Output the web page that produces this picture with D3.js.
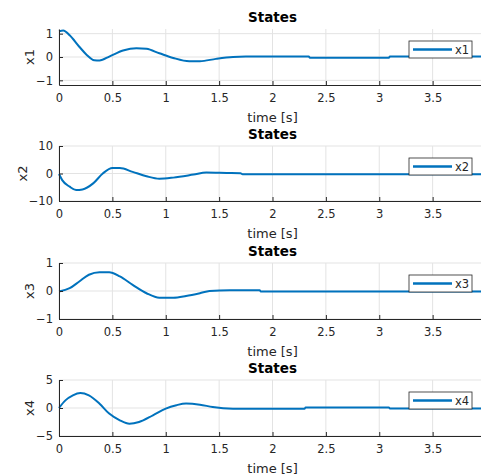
<!DOCTYPE html>
<html>
<head>
<meta charset="utf-8">
<script src="https://cdn.jsdelivr.net/npm/d3@7"></script>
<style>
  body { margin: 0; background: #fff; }
  svg { display: block; font-family: "DejaVu Sans", sans-serif; }
</style>
</head>
<body>
<div id="chart"></div>
<script>
/* four stacked state plots, MATLAB look */

const xTicks = [0, 0.5, 1, 1.5, 2, 2.5, 3, 3.5]; // 4 falls just off the picture

const x1T = [0, 0.04, 0.1, 0.19, 0.26, 0.33, 0.38, 0.475, 0.6, 0.725, 0.82, 0.94, 1.07, 1.22, 1.32, 1.47, 1.63, 1.75, 2.0, 2.34, 2.35, 3.09, 3.1, 4];
const x1V = [1.1, 1.14, 0.93, 0.44, 0.09, -0.14, -0.15, 0.03, 0.28, 0.38, 0.35, 0.16, -0.04, -0.18, -0.18, -0.08, 0.0, 0.02, 0.02, 0.02, -0.03, -0.03, 0.02, 0.02];

const x2T = [0, 0.03, 0.1, 0.16, 0.22, 0.32, 0.41, 0.5, 0.57, 0.69, 0.82, 0.94, 1.07, 1.26, 1.38, 1.57, 1.7, 1.72, 4];
const x2V = [-0.2, -2.4, -4.8, -6.0, -5.8, -3.6, 0, 2.0, 2.0, 0.6, -1.0, -1.9, -1.5, -0.4, 0.35, 0.2, 0.1, -0.3, -0.3];

const x3T = [0, 0.1, 0.19, 0.28, 0.38, 0.47, 0.57, 0.69, 0.82, 0.94, 1.07, 1.19, 1.32, 1.41, 1.6, 1.88, 1.89, 4];
const x3V = [-0.02, 0.1, 0.34, 0.58, 0.67, 0.67, 0.52, 0.22, -0.08, -0.24, -0.24, -0.18, -0.08, 0.0, 0.03, 0.03, -0.02, -0.02];

const x4T = [0, 0.06, 0.13, 0.2, 0.28, 0.38, 0.47, 0.57, 0.66, 0.75, 0.88, 1.0, 1.1, 1.19, 1.32, 1.44, 1.63, 1.8, 2.3, 2.31, 3.09, 3.1, 4];
const x4V = [0, 1.36, 2.26, 2.68, 2.26, 0.77, -1.0, -2.2, -2.8, -2.5, -1.3, -0.1, 0.5, 0.8, 0.6, 0.17, -0.13, -0.15, -0.15, 0.1, 0.1, -0.1, -0.1];

const names = ["x1", "x2", "x3", "x4"];
const yLims = [[-1.2, 1.2], [-10, 10], [-1, 1], [-5, 5]];
const yTicks = [[-1, 0, 1], [-10, 0, 10], [-1, 0, 1], [-5, 0, 5]];

const series = [[x1T, x1V], [x2T, x2V], [x3T, x3V], [x4T, x4V]];

const width = 481, height = 475;
const left = 59, right = 486; // axes runs past the picture edge
const tops = [29, 146, 263, 380],
      bottoms = [85, 201, 319, 436];

const ink = "#262626", grid = "#e3e3e3", blue = "#0072BD";

let svg = d3.select("#chart")
    .append("svg")
    .attr("width", width)
    .attr("height", height);

let x = d3.scaleLinear()
    .domain([0, 4])
    .range([left, right]);

names.forEach((name, i) => {
    let y = d3.scaleLinear()
        .domain(yLims[i])
        .range([bottoms[i], tops[i]]);

    let g = svg.append("g");

    // grid
    g.append("g")
        .selectAll("line")
        .data(xTicks)
        .join("line")
        .attr("x1", d => x(d)).attr("x2", d => x(d))
        .attr("y1", tops[i]).attr("y2", bottoms[i])
        .attr("stroke", grid);

    g.append("g")
        .selectAll("line")
        .data(yTicks[i])
        .join("line")
        .attr("x1", left).attr("x2", right)
        .attr("y1", d => y(d)).attr("y2", d => y(d))
        .attr("stroke", grid);

    // data line
    let pts = series[i][0].map((t, k) => [t, series[i][1][k]]);
    g.append("path")
        .datum(pts)
        .attr("fill", "none")
        .attr("stroke", blue)
        .attr("stroke-width", 2)
        .attr("d", d3.line()
            .x(d => x(d[0]))
            .y(d => y(d[1]))
            .curve(d3.curveMonotoneX));

    // axes, ticks pointing inward
    let xAxis = g.append("g")
        .attr("transform", `translate(0,${bottoms[i]})`)
        .call(d3.axisBottom(x).tickValues(xTicks).tickSizeInner(-4).tickSizeOuter(0)
            .tickPadding(9).tickFormat(d3.format("")));
    let yAxis = g.append("g")
        .attr("transform", `translate(${left},0)`)
        .call(d3.axisLeft(y).tickValues(yTicks[i]).tickSizeInner(-4).tickSizeOuter(0)
            .tickPadding(6).tickFormat(d3.format("")));

    [xAxis, yAxis].forEach(a => {
        a.select(".domain").attr("stroke", ink);
        a.selectAll(".tick line").attr("stroke", ink);
        a.selectAll(".tick text")
            .attr("fill", ink)
            .style("font-family", "DejaVu Sans, sans-serif")
            .style("font-size", "11.5px");
    });

    // title
    g.append("text")
        .attr("x", (left + right) / 2)
        .attr("y", tops[i] - 7)
        .attr("text-anchor", "middle")
        .attr("fill", "#000")
        .style("font-weight", "bold")
        .style("font-size", "13.5px")
        .text("States");

    // x label
    g.append("text")
        .attr("x", (left + right) / 2)
        .attr("y", bottoms[i] + 37)
        .attr("text-anchor", "middle")
        .attr("fill", ink)
        .style("font-size", "13px")
        .text("time [s]");

    // y label
    g.append("text")
        .attr("transform", `translate(${i == 1 ? 27 : 34},${(tops[i] + bottoms[i]) / 2}) rotate(-90)`)
        .attr("text-anchor", "middle")
        .attr("fill", ink)
        .style("font-size", "13px")
        .text(name);

    // legend
    let lg = g.append("g")
        .attr("transform", `translate(409,${tops[i] + 12})`);
    lg.append("rect")
        .attr("width", 63).attr("height", 17)
        .attr("fill", "#fff")
        .attr("stroke", ink)
        .attr("stroke-width", 0.8);
    lg.append("line")
        .attr("x1", 4).attr("x2", 43)
        .attr("y1", 8.5).attr("y2", 8.5)
        .attr("stroke", blue)
        .attr("stroke-width", 2.5);
    lg.append("text")
        .attr("x", 46).attr("y", 12.5)
        .attr("fill", ink)
        .style("font-size", "11.5px")
        .text(name);
});
</script>
</body>
</html>
